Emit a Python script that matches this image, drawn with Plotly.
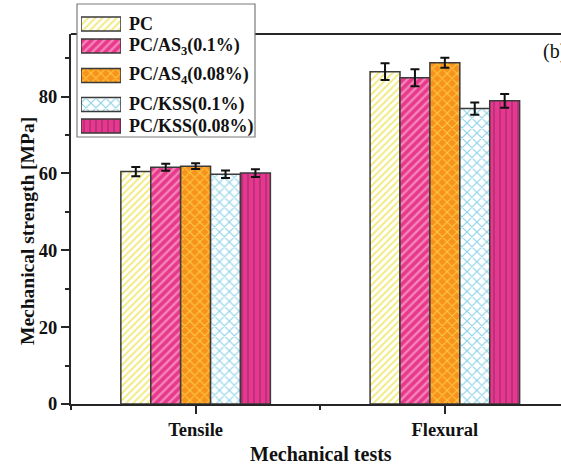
import plotly.graph_objects as go

# ---- data -------------------------------------------------------------
categories = ["Tensile", "Flexural"]
series_names = ["PC", "PC/AS<sub>3</sub>(0.1%)", "PC/AS<sub>4</sub>(0.08%)",
                "PC/KSS(0.1%)", "PC/KSS(0.08%)"]

pc_vals = [60.5, 86.5]
as3_vals = [61.6, 84.9]
as4_vals = [61.9, 88.8]
kss01_vals = [59.8, 76.9]
kss008_vals = [60.1, 78.9]

pc_err = [1.2, 2.2]
as3_err = [0.9, 2.2]
as4_err = [0.75, 1.3]
kss01_err = [1.0, 1.6]
kss008_err = [1.0, 1.8]

values = [pc_vals, as3_vals, as4_vals, kss01_vals, kss008_vals]
errors = [pc_err, as3_err, as4_err, kss01_err, kss008_err]

# ---- styling ----------------------------------------------------------
FONT = "Liberation Serif, Times New Roman, serif"
AXIS_COLOR = "#262626"
EDGE = "#3a3a3a"

patterns = [
    dict(shape="/", bgcolor="#FFFFFF", fgcolor="#F3E97A", size=5, solidity=0.35),
    dict(shape="/", bgcolor="#E8388B", fgcolor="#F586B8", size=6, solidity=0.4),
    dict(shape="x", bgcolor="#F7921E", fgcolor="#FFC93E", size=7, solidity=0.3),
    dict(shape="x", bgcolor="#FFFFFF", fgcolor="#8ED2E6", size=7, solidity=0.3),
    dict(shape="|", bgcolor="#E8388B", fgcolor="#A52C7E", size=6, solidity=0.22),
]

x_pos = list(range(len(categories)))

fig = go.Figure()

for name, vals, errs, pat in zip(series_names, values, errors, patterns):
    fig.add_trace(go.Bar(
        x=x_pos, y=vals, name=name, showlegend=False,
        marker=dict(color=pat["bgcolor"],
                    line=dict(color=EDGE, width=1.5),
                    pattern=dict(fillmode="replace", **pat)),
        error_y=dict(type="data", array=errs, visible=True,
                     color="#111111", thickness=2, width=4.5),
        xaxis="x", yaxis="y",
    ))

# ---- legend panel (inset axes holding the pattern swatches) ----------
legend_rows = [20, 42, 71.5, 100.5, 122]   # vertical offsets inside the panel
swatch_height = 14

for name, row, pat in zip(series_names, legend_rows, patterns):
    fig.add_trace(go.Bar(
        orientation="h", x=[1], y=[row], base=0, width=swatch_height,
        offsetgroup="legend", showlegend=False, hoverinfo="skip",
        marker=dict(color=pat["bgcolor"],
                    line=dict(color=EDGE, width=1.5),
                    pattern=dict(fillmode="replace", **pat)),
        xaxis="x2", yaxis="y2",
    ))

W, H = 561, 464
ML, MR, MT, MB = 71, 0, 0, 60
PW, PH = W - ML - MR, H - MT - MB


def px_x(px):
    return (px - ML) / PW


def px_y(py):
    return (H - MB - py) / PH


plot_top = 34

shapes = [
    # top frame line of the plotting area
    dict(type="line", xref="paper", yref="paper",
         x0=0, x1=1, y0=px_y(plot_top), y1=px_y(plot_top),
         line=dict(color=AXIS_COLOR, width=2), layer="below"),
    # legend frame
    dict(type="rect", xref="paper", yref="paper",
         x0=px_x(77), x1=px_x(255), y0=px_y(137), y1=px_y(4),
         fillcolor="white", line=dict(color="#7a7a7a", width=1.2),
         layer="below"),
]

annotations = []
for name, row in zip(series_names, legend_rows):
    annotations.append(dict(
        text=name, xref="paper", yref="y2", x=px_x(127), y=row,
        xanchor="left", yanchor="middle", showarrow=False,
        font=dict(family=FONT, size=18, color="#111111", weight="bold"),
    ))

annotations += [
    dict(text="(b)", xref="paper", yref="paper", x=px_x(541), y=px_y(51),
         xanchor="left", yanchor="middle", showarrow=False,
         font=dict(family=FONT, size=20, color="#111111")),
    dict(text="Mechanical strength [MPa]", xref="paper", yref="paper",
         x=px_x(27), y=px_y(231), textangle=-90, showarrow=False,
         xanchor="center", yanchor="middle",
         font=dict(family=FONT, size=19.5, color="#111111", weight="bold")),
    dict(text="Mechanical tests", xref="paper", yref="paper",
         x=px_x(321), y=px_y(454), showarrow=False,
         xanchor="center", yanchor="middle",
         font=dict(family=FONT, size=20, color="#111111", weight="bold")),
]

tick_font = dict(family=FONT, size=18.5, color="#111111", weight="bold")

fig.update_layout(
    width=W, height=H,
    margin=dict(l=ML, r=MR, t=MT, b=MB, pad=0),
    paper_bgcolor="white", plot_bgcolor="rgba(0,0,0,0)",
    barmode="group", bargap=0.4, bargroupgap=0,
    shapes=shapes, annotations=annotations,
    xaxis=dict(
        domain=[0, 1], range=[-0.5, 1.466], tickmode="array",
        tickvals=x_pos, ticktext=categories, tickfont=tick_font,
        showline=True, linecolor=AXIS_COLOR, linewidth=2,
        ticks="outside", ticklen=8, tickwidth=2, tickcolor=AXIS_COLOR,
        minor=dict(tickvals=[-0.5, 0.5, 1.5], ticks="outside", ticklen=4,
                   tickwidth=2, tickcolor=AXIS_COLOR),
        showgrid=False, zeroline=False, anchor="y",
    ),
    yaxis=dict(
        domain=[0, px_y(plot_top)], range=[0, 96.3],
        tickmode="linear", tick0=0, dtick=20, tickfont=tick_font,
        showline=True, linecolor=AXIS_COLOR, linewidth=2,
        ticks="outside", ticklen=8, tickwidth=2, tickcolor=AXIS_COLOR,
        minor=dict(dtick=10, ticks="outside", ticklen=4, tickwidth=2,
                   tickcolor=AXIS_COLOR),
        showgrid=False, zeroline=False, anchor="x",
    ),
    xaxis2=dict(domain=[px_x(81), px_x(121)], range=[0, 1], visible=False,
                anchor="y2", fixedrange=True),
    yaxis2=dict(domain=[px_y(137), px_y(4)], range=[133, 0], visible=False,
                anchor="x2", fixedrange=True),
)

fig.write_html("out.html")
